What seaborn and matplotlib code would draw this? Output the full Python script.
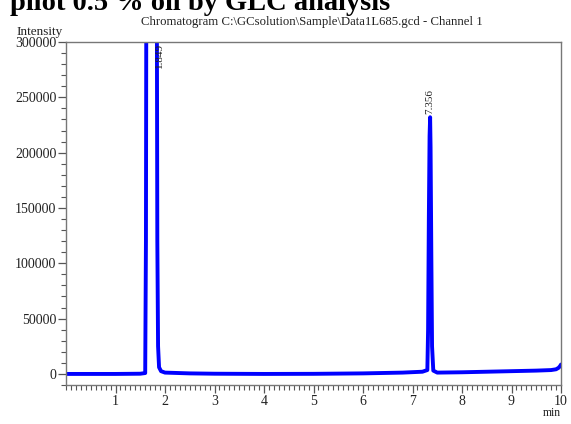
import matplotlib
matplotlib.use("Agg")
import matplotlib.pyplot as plt
from matplotlib.ticker import MultipleLocator
import seaborn as sns
import pandas as pd

# Chromatogram trace (key points)
time_min = [0.00, 0.50, 1.00, 1.50, 1.60, 1.615, 1.625, 1.64, 1.70, 1.78, 1.83, 1.845,
            1.86, 1.88, 1.92, 2.00, 2.50, 3.00, 4.00, 5.00, 6.00, 6.80, 7.20, 7.30,
            7.315, 7.33, 7.345, 7.356, 7.365, 7.38, 7.395, 7.42, 7.50, 8.00, 8.50,
            9.00, 9.50, 9.80, 9.90, 9.95, 9.98, 10.00]
intensity = [0, 0, 0, 200, 800, 120000, 420000, 900000, 1200000, 900000, 450000, 120000,
             25000, 6000, 2500, 1200, 500, 200, 0, 100, 500, 1200, 2000, 3500,
             40000, 140000, 215000, 232000, 205000, 110000, 25000, 3000, 1200, 1500, 2000,
             2500, 3000, 3500, 4200, 5500, 7000, 8500]

peak_times = [1.849, 7.356]
peak_labels = ["1.849", "7.356"]
peak_label_y = [288000, 235000]

y_ticks = [0, 50000, 100000, 150000, 200000, 250000, 300000]
x_ticks = [1, 2, 3, 4, 5, 6, 7, 8, 9, 10]

df = pd.DataFrame({"time": time_min, "intensity": intensity})

sns.set_style("ticks")
plt.rcParams["font.family"] = ["Liberation Serif", "DejaVu Serif"]

fig = plt.figure(figsize=(5.71, 4.24), dpi=100)
ax = fig.add_axes([66 / 571, 1 - 385 / 424, (561 - 66) / 571, (385 - 42) / 424])

sns.lineplot(data=df, x="time", y="intensity", ax=ax, color="#0000ff",
             linewidth=2.8, estimator=None, sort=False)

ax.set_xlim(0, 10)
ax.set_ylim(-10000, 300000)
ax.set_xticks(x_ticks)
ax.set_xticklabels([str(v) for v in x_ticks])
ax.set_yticks(y_ticks)
ax.set_yticklabels([str(v) for v in y_ticks])
ax.xaxis.set_minor_locator(MultipleLocator(0.1))
ax.yaxis.set_minor_locator(MultipleLocator(10000))
ax.set_xlabel("")
ax.set_ylabel("")

for s in ax.spines.values():
    s.set_color("#777777")
    s.set_linewidth(1.0)
ax.tick_params(which="major", length=6, width=0.9, color="#555555",
               labelsize=10, labelcolor="#222222", pad=1)
ax.tick_params(which="minor", length=3.5, width=0.8, color="#555555")

for t, lab, yy in zip(peak_times, peak_labels, peak_label_y):
    ax.text(t + 0.03 if t < 2 else t, yy, lab, rotation=90, ha="center",
            va="center" if t < 2 else "bottom", fontsize=8, color="#222222")

fig.text(0.018, 1 - 10 / 424, "pilot 0.5 % oil by GLC analysis", fontsize=20.5,
         fontweight="bold", ha="left", va="baseline", color="black")
fig.text(312 / 571, 1 - 22 / 424,
         "Chromatogram C:\\GCsolution\\Sample\\Data1L685.gcd - Channel 1",
         fontsize=9.2, ha="center", va="center", color="#222222")
fig.text(40 / 571, 1 - 32 / 424, "Intensity", fontsize=9.5, ha="center",
         va="center", color="#222222")
fig.text(552 / 571, 1 - 413 / 424, "min", fontsize=8.5, ha="center",
         va="center", color="#222222")

fig.savefig("out.png", dpi=100)
